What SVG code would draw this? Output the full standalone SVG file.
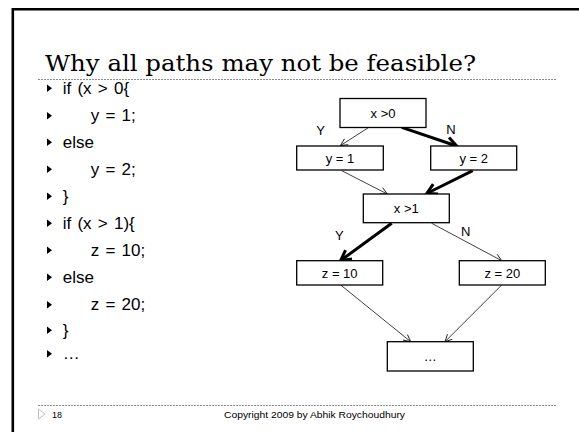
<svg xmlns="http://www.w3.org/2000/svg" width="579" height="432" viewBox="0 0 579 432">
<style>
.code{font-family:"Liberation Sans",Arial,sans-serif;font-size:17px;fill:#000;word-spacing:1.5px}
.bul{fill:#000}
.box{fill:#fff;stroke:#000;stroke-width:1.3}
.lbl{font-family:"Liberation Sans",Arial,sans-serif;font-size:13px;fill:#000;text-anchor:middle}
.thin{stroke:#000;stroke-width:0.75;fill:none;marker-end:url(#ah)}
.thick{stroke:#000;stroke-width:3;fill:none;marker-end:url(#ahb)}
.dash{stroke:#8a8a8a;stroke-width:1;stroke-dasharray:2 1;fill:none}
</style>
<defs>
<marker id="ah" markerUnits="userSpaceOnUse" markerWidth="10" markerHeight="10" refX="7" refY="3.5" orient="auto" overflow="visible">
<path d="M0,0 L7,3.5 L0,7" fill="none" stroke="#000" stroke-width="0.8"/>
</marker>
<marker id="ahb" markerUnits="userSpaceOnUse" markerWidth="14" markerHeight="14" refX="10" refY="5.5" orient="auto" overflow="visible">
<path d="M0,0 L10,5.5 L0,11" fill="none" stroke="#000" stroke-width="3"/>
</marker>
<polygon id="tri" points="0,0 5,3.7 0,7.4"/>
</defs>
<rect width="579" height="432" fill="#fff"/>
<!-- frame -->
<path d="M12.8,432 V9.3 H579" fill="none" stroke="#000" stroke-width="2.6"/>
<!-- title -->
<text x="45" y="71" font-family="'DejaVu Serif',serif" font-size="23" textLength="431" lengthAdjust="spacingAndGlyphs" fill="#000">Why all paths may not be feasible?</text>
<line class="dash" x1="38" y1="79.5" x2="556" y2="79.5"/>
<!-- code bullets -->
<g id="code">
<use href="#tri" class="bul" x="47" y="84.5"/><text class="code" x="62.7" y="93.5">if (x &gt; 0{</text>
<use href="#tri" class="bul" x="47" y="112"/><text class="code" x="90.7" y="121">y = 1;</text>
<use href="#tri" class="bul" x="47" y="138.5"/><text class="code" x="62.7" y="147.5">else</text>
<use href="#tri" class="bul" x="47" y="165.5"/><text class="code" x="90.7" y="174.5">y = 2;</text>
<use href="#tri" class="bul" x="47" y="192.5"/><text class="code" x="62.7" y="201.5">}</text>
<use href="#tri" class="bul" x="47" y="219.5"/><text class="code" x="62.7" y="228.5">if (x &gt; 1){</text>
<use href="#tri" class="bul" x="47" y="246.5"/><text class="code" x="90.7" y="255.5">z = 10;</text>
<use href="#tri" class="bul" x="47" y="273.5"/><text class="code" x="62.7" y="282.5">else</text>
<use href="#tri" class="bul" x="47" y="301"/><text class="code" x="90.7" y="310">z = 20;</text>
<use href="#tri" class="bul" x="47" y="326.5"/><text class="code" x="62.7" y="335.5">}</text>
<use href="#tri" class="bul" x="47" y="350"/><text class="code" x="62.7" y="359">…</text>
</g>
<!-- connectors -->
<g id="connectors">
<line class="thin" x1="368.3" y1="127.7" x2="340.5" y2="145.5"/>
<line class="thick" x1="401.7" y1="127.3" x2="456.7" y2="146"/>
<line class="thin" x1="341.7" y1="170.7" x2="387.3" y2="194"/>
<line class="thick" x1="472.7" y1="170.7" x2="426.7" y2="193.5"/>
<line class="thick" x1="391.7" y1="223.3" x2="340.7" y2="260.5"/>
<line class="thin" x1="431.7" y1="223.3" x2="501.7" y2="260.7"/>
<line class="thin" x1="340.7" y1="285" x2="410.7" y2="341.7"/>
<line class="thin" x1="501.7" y1="285" x2="445" y2="341.7"/>
<text class="lbl" x="320.7" y="134.5">Y</text>
<text class="lbl" x="451" y="134">N</text>
<text class="lbl" x="339.3" y="239.5">Y</text>
<text class="lbl" x="465.7" y="235.5">N</text>
</g>
<!-- nodes -->
<g id="n_x0"><rect class="box" x="340" y="98.5" width="86" height="29"/><text class="lbl" x="383" y="117.8">x &gt;0</text></g>
<g id="n_y1"><rect class="box" x="296.7" y="146" width="86.6" height="24"/><text class="lbl" x="340" y="162.6">y = 1</text></g>
<g id="n_y2"><rect class="box" x="430.7" y="146" width="86" height="24"/><text class="lbl" x="473.7" y="162.6">y = 2</text></g>
<g id="n_x1"><rect class="box" x="363.3" y="194" width="86" height="28.7"/><text class="lbl" x="406.3" y="213">x &gt;1</text></g>
<g id="n_z10"><rect class="box" x="296.7" y="260.7" width="86" height="24.3"/><text class="lbl" x="339.7" y="277.5">z = 10</text></g>
<g id="n_z20"><rect class="box" x="459.3" y="260.7" width="86" height="24.3"/><text class="lbl" x="502.3" y="277.5">z = 20</text></g>
<g id="n_end"><rect class="box" x="387.3" y="341.7" width="86" height="29.3"/><text class="lbl" x="430.3" y="361">…</text></g>
<!-- footer -->
<line class="dash" x1="38" y1="405.5" x2="556" y2="405.5"/>
<polygon points="38.5,409 45,414 38.5,419" fill="none" stroke="#b0b0b0" stroke-width="0.8"/>
<text x="52" y="417.5" font-family="'Liberation Sans',Arial,sans-serif" font-size="9" fill="#000">18</text>
<text x="224" y="418" font-family="'Liberation Sans',Arial,sans-serif" font-size="9.5" textLength="181" lengthAdjust="spacingAndGlyphs" fill="#000">Copyright 2009 by Abhik Roychoudhury</text>
</svg>
